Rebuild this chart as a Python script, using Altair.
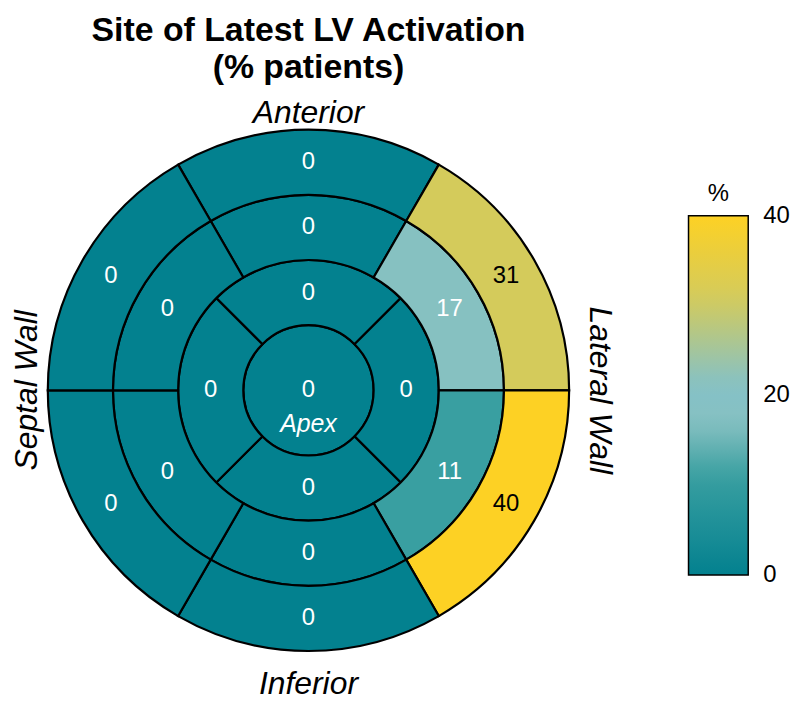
import math
import altair as alt
import pandas as pd

# ---------------- data ----------------
title_lines = ["Site of Latest LV Activation", "(% patients)"]
# segment values, clockwise starting at the top (anterior)
basal_values = [0, 31, 40, 0, 0, 0]
mid_values = [0, 17, 11, 0, 0, 0]
apical_values = [0, 0, 0, 0]
apex_values = [0]
color_stops = [0, 11, 17, 21, 31, 40]
color_range = ["#03818F", "#399FA1", "#86C1C1", "#84C1C7", "#D4CB5B", "#FDD124"]
legend_ticks = [0, 20, 40]

FONT = "Liberation Sans"
R = 262
CX, CY = 302, 382.5
BAR_X, BAR_Y, BAR_W, BAR_H = 684, 207, 60, 361

rows = []
for ring, values in [(1, apex_values), (2, apical_values), (3, mid_values), (4, basal_values)]:
    n = len(values)
    step = 360.0 / n
    for i, v in enumerate(values):
        rows.append({
            "ring": ring,
            "value": v,
            "start": i * step - step / 2,
            "end": i * step + step / 2,
            "mid": i * step,
            "inner": ring - 1,
            "outer": ring,
            "rmid": 0 if ring == 1 else ring - 0.5,
        })
df = pd.DataFrame(rows)

theta_scale = alt.Scale(domain=[0, 360], range=[0, 2 * math.pi])
radius_scale = alt.Scale(type="linear", domain=[0, 4], range=[0, R], zero=True)

base = alt.Chart(df)

arcs = base.mark_arc(stroke="black", strokeWidth=2.2).encode(
    x=alt.value(CX),
    y=alt.value(CY),
    theta=alt.Theta("start:Q", scale=theta_scale, stack=None),
    theta2="end:Q",
    radius=alt.Radius("outer:Q", scale=radius_scale),
    radius2="inner:Q",
    color=alt.Color(
        "value:Q",
        scale=alt.Scale(domain=color_stops, range=color_range, interpolate="rgb"),
        legend=alt.Legend(
            title=None,
            orient="none",
            legendX=BAR_X,
            legendY=BAR_Y,
            direction="vertical",
            gradientLength=BAR_H,
            gradientThickness=BAR_W,
            gradientStrokeColor="black",
            gradientStrokeWidth=1.5,
            values=legend_ticks,
            labelOpacity=0,
            padding=0,
        ),
    ),
)

labels = base.mark_text(font=FONT, fontSize=24, baseline="middle", align="center").encode(
    x=alt.value(CX),
    y=alt.value(CY),
    theta=alt.Theta("mid:Q", scale=theta_scale, stack=None),
    radius=alt.Radius("rmid:Q", scale=radius_scale),
    text="value:Q",
    color=alt.condition(alt.datum.value > 25, alt.value("black"), alt.value("white")),
)

tick_labels = alt.Chart(pd.DataFrame({"tick": legend_ticks})).mark_text(
    font=FONT, fontSize=24, align="left", baseline="middle", color="black"
).encode(
    x=alt.value(BAR_X + BAR_W + 15),
    y=alt.Y("tick:Q", scale=alt.Scale(domain=[0, 40], range=[BAR_Y + BAR_H, BAR_Y]), axis=None),
    text="tick:Q",
)

def note(txt, x, y, size=32, weight="normal", style="italic", angle=0, color="black"):
    kw = dict(font=FONT, fontSize=size, fontWeight=weight, fontStyle=style,
              align="center", baseline="alphabetic", color=color)
    if angle:
        kw["angle"] = angle
        kw["baseline"] = "middle"
    return alt.Chart(pd.DataFrame({"t": [txt]})).mark_text(**kw).encode(
        x=alt.value(x), y=alt.value(y), text="t:N"
    )

layers = [
    arcs,
    labels,
    tick_labels,
    note(title_lines[0], CX, 31, size=34, weight="bold", style="normal"),
    note(title_lines[1], CX, 69, size=34, weight="bold", style="normal"),
    note("Anterior", CX, 114),
    note("Inferior", CX, 688),
    note("Septal Wall", 19, CY, angle=270),
    note("Lateral Wall", 595, CY, angle=90),
    note("Apex", CX, CY + 42, size=25, color="white"),
    note("%", BAR_X + BAR_W / 2, 192, size=24, style="normal"),
]

chart = alt.layer(*layers).properties(
    width=604, height=699, padding=0
).configure_view(stroke=None)

chart.save("out.html", embed_options={"renderer": "svg", "actions": False})
